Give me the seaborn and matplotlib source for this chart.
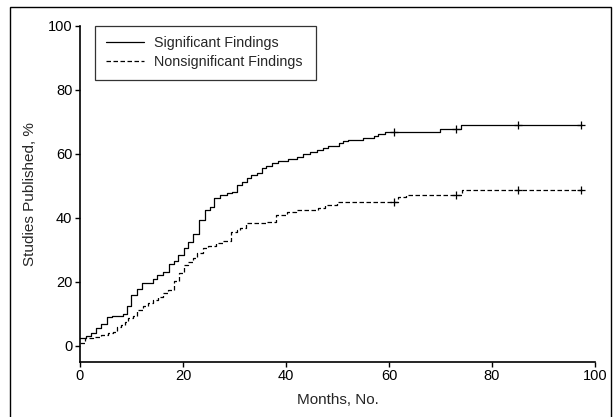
import numpy as np
import pandas as pd
import matplotlib
matplotlib.use("Agg")
import matplotlib.pyplot as plt
import seaborn as sns
from matplotlib.patches import Rectangle

# DATI

sig_months = [0, 1.2, 2.1, 3.1, 4.1, 5.2, 6.2, 8.3, 9.1, 10.0,
              11.0, 12.1, 14.1, 15.0, 16.2, 17.2, 18.2, 19.1, 20.1, 21.0,
              22.0, 23.2, 24.3, 25.2, 26.1, 27.2, 28.5, 29.5, 30.4, 31.4,
              32.4, 33.3, 34.3, 35.3, 36.2, 37.2, 38.5, 40.3, 42.2, 43.4,
              44.7, 46.1, 47.1, 48.2, 50.2, 51.0, 52.1, 55.0, 57.0, 57.9,
              59.2, 69.9, 74.0, 97.5]
sig_pct = [2.3, 3.0, 4.1, 5.4, 6.8, 8.9, 9.3, 9.8, 12.4, 15.8,
           17.6, 19.5, 20.7, 22.0, 23.0, 25.5, 26.5, 28.3, 30.4, 32.5,
           34.9, 39.3, 42.4, 43.4, 46.1, 47.1, 47.6, 48.1, 50.2, 51.3,
           52.3, 53.3, 54.0, 55.4, 56.2, 57.0, 57.6, 58.3, 59.1, 59.8,
           60.6, 61.2, 61.9, 62.5, 63.3, 64.0, 64.4, 64.8, 65.4, 66.0,
           66.9, 67.6, 68.9, 68.9]

ns_months = [0, 1.0, 2.5, 4.1, 5.4, 6.4, 7.1, 8.0, 8.7, 9.3,
             10.3, 11.1, 12.2, 13.2, 14.2, 15.1, 16.1, 17.1, 18.3, 19.3,
             20.1, 21.0, 21.9, 22.7, 23.9, 24.9, 26.5, 27.8, 29.3, 30.4,
             31.1, 32.2, 36.2, 38.1, 40.1, 42.0, 46.3, 47.6, 50.0, 61.7,
             63.3, 74.1, 97.5]
ns_pct = [0.9, 2.3, 2.6, 3.3, 4.1, 4.4, 5.7, 6.5, 7.5, 8.6,
          9.3, 11.2, 12.4, 13.3, 14.3, 15.3, 16.4, 17.4, 20.3, 22.6,
          25.2, 26.2, 27.3, 28.9, 30.4, 31.2, 32.2, 32.8, 35.6, 36.2,
          36.9, 38.2, 38.8, 40.8, 41.7, 42.4, 43.1, 44.0, 45.0, 46.4,
          47.1, 48.5, 48.5]

censor_months = [61.0, 73.0, 85.0, 97.2]

labels = ["Significant Findings", "Nonsignificant Findings"]
x_ticks = [0, 20, 40, 60, 80, 100]
y_ticks = [0, 20, 40, 60, 80, 100]


# STILE

sns.set_style("ticks")
plt.rcParams["font.family"] = ["Liberation Sans", "DejaVu Sans"]
plt.rcParams["font.size"] = 10.5


def step_value(months, pct, t):
    i = np.searchsorted(months, t, side="right") - 1
    return pct[i]


df = pd.concat([
    pd.DataFrame({"mesi": sig_months, "pct": sig_pct, "gruppo": labels[0]}),
    pd.DataFrame({"mesi": ns_months, "pct": ns_pct, "gruppo": labels[1]}),
])

fig = plt.figure(figsize=(6.13, 4.17), dpi=100)
ax = fig.add_axes([0.1305, 0.1326, 0.9706 - 0.1305, 0.9384 - 0.1326])

stili = {labels[0]: "-", labels[1]: (0, (3.6, 2.0))}
serie = {labels[0]: (sig_months, sig_pct), labels[1]: (ns_months, ns_pct)}

for gruppo in labels:
    sub = df[df["gruppo"] == gruppo]
    sns.lineplot(data=sub, x="mesi", y="pct", ax=ax, color="black",
                 linewidth=0.9, linestyle=stili[gruppo], drawstyle="steps-post",
                 estimator=None, label=gruppo)
    m, p = serie[gruppo]
    cy = [step_value(m, p, t) for t in censor_months]
    ax.plot(censor_months, cy, linestyle="none", marker="+", color="black",
            markersize=6, markeredgewidth=0.9)

ax.set_xlim(0, 100)
ax.set_ylim(-5, 100)
ax.set_xticks(x_ticks)
ax.set_yticks(y_ticks)
ax.set_xlabel("Months, No.", labelpad=7, fontsize=11)
ax.set_ylabel("Studies Published, %", labelpad=8, fontsize=11)

sns.despine(ax=ax)
for s in ["left", "bottom"]:
    ax.spines[s].set_linewidth(1.2)
    ax.spines[s].set_color("black")
ax.tick_params(direction="out", length=3.5, width=1, color="black", pad=2,
               labelsize=10.5, labelcolor="black")

leg = ax.legend(loc="upper left", bbox_to_anchor=(0.029, 0.0, 0.429, 1.0),
                mode="expand", borderaxespad=0, frameon=True, fancybox=False,
                handlelength=2.7, handletextpad=0.7, labelspacing=0.35,
                borderpad=0.75, fontsize=10.3)
leg.get_frame().set_edgecolor("black")
leg.get_frame().set_linewidth(0.9)

# cornice esterna
fig.patches.append(Rectangle((10 / 613, -0.01), 601 / 613, 0.993, transform=fig.transFigure,
                             fill=False, edgecolor="black", linewidth=1.0))

fig.savefig("out.png", dpi=100)
plt.close(fig)
